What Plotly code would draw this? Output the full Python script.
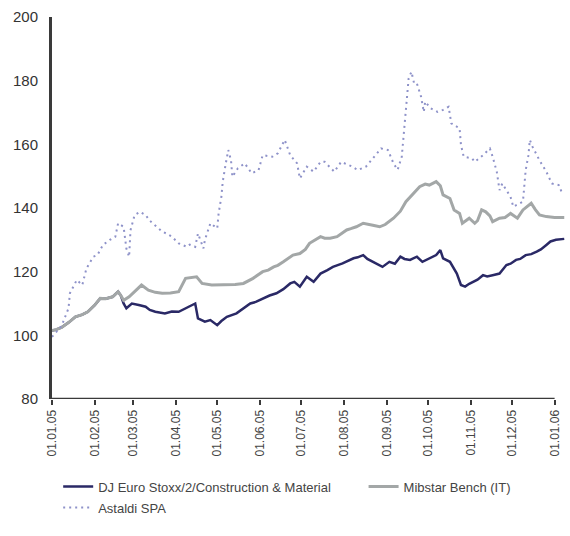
import pandas as pd
import plotly.graph_objects as go

START = pd.Timestamp("2005-01-01")

# DJ Euro Stoxx/2/Construction & Material (day offset from 01.01.05, value)
dj_days = [0, 3, 7, 12, 17, 22, 26, 31, 35, 39, 44, 48, 50, 52, 54, 58, 63, 68, 71, 75,
           82, 87, 92, 97, 102, 104, 106, 111, 115, 120, 123, 127, 134, 139, 144, 148, 153,
           158, 163, 168, 173, 176, 180, 185, 190, 195, 200, 204, 211, 215, 219, 222, 226,
           229, 233, 237, 240, 245, 249, 253, 256, 260, 265, 269, 274, 279, 282, 284, 289,
           291, 294, 297, 300, 303, 306, 309, 313, 316, 320, 325, 330, 333, 337, 340, 344,
           348, 352, 355, 359, 362, 366, 372]
dj_vals = [101.5, 101.8, 102.5, 104, 105.8, 106.5, 107.4, 109.5, 111.6, 111.5, 112.1, 113.7,
           112.5, 110, 108.5, 110, 109.5, 109, 108, 107.4, 106.9, 107.5, 107.4, 108.5, 109.5,
           110, 105.3, 104.3, 104.8, 103.2, 104.5, 105.8, 106.9, 108.5, 110, 110.5, 111.6,
           112.5, 113.2, 114.5, 116.3, 116.8, 115.3, 118.4, 116.8, 119.4, 120.5, 121.5, 122.6,
           123.5, 124.2, 124.5, 125.2, 124, 123.1, 122, 121.5, 123.1, 122.5, 124.7, 124, 123.7,
           124.7, 123.1, 124.2, 125.2, 126.8, 124.2, 123.1, 121.5, 119.4, 115.8, 115.3, 116.2,
           116.8, 117.5, 118.9, 118.5, 118.9, 119.4, 122.1, 122.5, 123.7, 124, 125.2, 125.5,
           126.3, 127, 128.4, 129.5, 130, 130.3]

# Mibstar Bench (IT)
mib_days = [0, 3, 7, 12, 17, 22, 26, 31, 35, 39, 44, 48, 50, 52, 56, 65, 70, 75, 80, 86,
            92, 97, 105, 109, 116, 120, 127, 133, 139, 146, 153, 157, 161, 164, 168, 175,
            180, 184, 187, 191, 195, 198, 202, 207, 210, 214, 217, 221, 226, 229, 233, 238,
            242, 248, 253, 257, 262, 267, 271, 274, 279, 282, 284, 289, 292, 296, 298, 301,
            303, 307, 309, 312, 315, 318, 320, 325, 329, 333, 336, 338, 342, 345, 348, 351,
            354, 359, 365, 372]
mib_vals = [101.5, 101.8, 102.5, 104, 105.8, 106.5, 107.4, 109.5, 111.6, 111.5, 112.1, 113.7,
            112.5, 111, 112.1, 115.8, 114.2, 113.5, 113.2, 113.3, 113.7, 117.9, 118.4, 116.3,
            115.8, 115.8, 115.8, 116, 116.3, 117.9, 120, 120.5, 121.5, 122, 123.1, 125.2, 125.7,
            127, 128.9, 130, 131, 130.5, 130.5, 131, 132, 133.1, 133.5, 134.1, 135.2, 135,
            134.6, 134.1, 134.8, 136.8, 139, 142, 144.5, 146.7, 147.5, 147.2, 148.3, 147,
            144.1, 143, 139.4, 138.3, 135.2, 136, 136.8, 135.2, 136, 139.4, 138.8, 137.5, 135.7,
            136.8, 137, 138.3, 137.5, 136.8, 139.4, 140.5, 141.5, 139.5, 137.8, 137.3, 137, 137]

# Astaldi SPA
ast_days = [0, 3, 7, 12, 13, 18, 22, 25, 28, 30, 33, 37, 42, 46, 48, 52, 54, 56, 57, 60,
            64, 68, 71, 75, 80, 83, 87, 92, 98, 100, 104, 106, 110, 111, 115, 120, 121, 123,
            124, 126, 128, 130, 131, 135, 140, 145, 150, 153, 160, 164, 169, 173, 178, 180,
            185, 190, 195, 198, 205, 210, 218, 222, 228, 233, 239, 244, 248, 251, 254, 255,
            256, 257, 258, 259, 261, 263, 265, 268, 270, 271, 275, 280, 284, 288, 290, 296,
            297, 299, 305, 307, 313, 318, 320, 323, 325, 327, 333, 335, 342, 343, 344, 346,
            347, 349, 354, 359, 363, 368, 371]
ast_vals = [99.5, 101, 103, 108.5, 113.2, 117.4, 115.8, 121, 123.5, 124.7, 125.2, 128.4, 130,
            131, 135.2, 134.1, 127.3, 124.7, 133, 137.8, 138.8, 137.8, 136, 134.6, 132.6, 132,
            131, 128.9, 127.8, 128.5, 127.8, 132, 127.3, 129.9, 135.2, 133.6, 138.3, 143.5,
            148.3, 153.5, 158.2, 155, 149.8, 152.5, 154, 150.9, 151.9, 156.6, 156.1, 157.2,
            161.4, 156.6, 154, 149.3, 153, 151.4, 154.5, 154.5, 151.4, 154.5, 153, 151.9, 153,
            155.6, 158.7, 158.2, 154, 152, 156.1, 161, 166, 171, 176, 180.7, 182.8, 179.1,
            179.1, 175, 170.2, 173.4, 171.3, 170.2, 170.8, 171.8, 166.6, 165, 159.8, 156.1,
            155.6, 154.5, 156.6, 158.7, 156.1, 151.4, 145.6, 147.7, 143.5, 140.4, 142, 146.7,
            151.9, 156.6, 161.4, 159.2, 155, 151.4, 147.7, 147.2, 144.1]

y_ticks = [80, 100, 120, 140, 160, 180, 200]
x_tick_dates = pd.date_range("2005-01-01", "2006-01-01", freq="MS")


def to_dates(days):
    return [START + pd.Timedelta(days=d) for d in days]


FONT = "Liberation Sans, Arial, sans-serif"
fig = go.Figure()
fig.add_trace(go.Scatter(x=to_dates(dj_days), y=dj_vals, mode="lines",
                         name="DJ Euro Stoxx/2/Construction & Material",
                         line=dict(color="#2a2966", width=2.5), legend="legend"))
fig.add_trace(go.Scatter(x=to_dates(mib_days), y=mib_vals, mode="lines",
                         name="Mibstar Bench (IT)",
                         line=dict(color="#a3a7a7", width=3), legend="legend2"))
fig.add_trace(go.Scatter(x=to_dates(ast_days), y=ast_vals, mode="lines",
                         name="Astaldi SPA",
                         line=dict(color="#8e92c9", width=2, dash="2px,4px"),
                         legend="legend3"))

# x axis baseline spanning the labelled period
fig.add_shape(type="line", xref="x", yref="y", x0=x_tick_dates[0], x1=x_tick_dates[-1],
              y0=80, y1=80, line=dict(color="#3a3a3a", width=2.5), layer="above")

leg_common = dict(orientation="h", xanchor="left", yanchor="top",
                  font=dict(size=13, color="#444444"), bgcolor="rgba(0,0,0,0)",
                  itemwidth=30)
fig.update_layout(
    width=570, height=536,
    margin=dict(l=52, r=3, t=17, b=137),
    paper_bgcolor="white", plot_bgcolor="white",
    font=dict(family=FONT, color="#333333"),
    showlegend=True,
    legend=dict(x=0.012, y=-0.19, **leg_common),
    legend2=dict(x=0.605, y=-0.19, **leg_common),
    legend3=dict(x=0.012, y=-0.245, **leg_common),
)
fig.update_xaxes(
    type="date",
    range=[START, START + pd.Timedelta(days=374)],
    tickvals=list(x_tick_dates),
    ticktext=[d.strftime("%d.%m.%y") for d in x_tick_dates],
    tickangle=-90, tickfont=dict(size=12, color="#444444"),
    ticks="outside", ticklen=5, tickwidth=2, tickcolor="#3a3a3a",
    showgrid=False, zeroline=False, showline=False,
)
fig.update_yaxes(
    range=[80, 200], tickvals=y_ticks,
    tickfont=dict(size=15, color="#333333"),
    showgrid=False, zeroline=False,
    showline=True, linecolor="#3a3a3a", linewidth=3,
    ticks="", ticklabelstandoff=8,
)

fig.write_html("out.html")
